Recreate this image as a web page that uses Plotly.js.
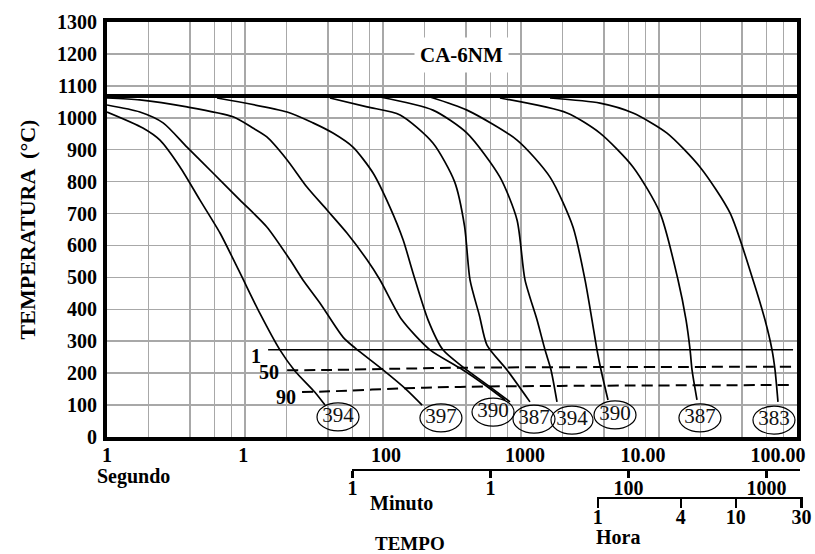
<!DOCTYPE html>
<html><head><meta charset="utf-8">
<script src="https://cdn.plot.ly/plotly-3.0.1.min.js"></script>
<style>html,body{margin:0;padding:0;background:#fff}</style>
</head><body><div id="chart" style="width:815px;height:554px"></div>
<script>
// ---- data (time in seconds, temperature in °C) ----
const c1Time = [1, 1.82, 2.42, 3.38, 4.72, 6.59, 9.2, 12.8, 17.9, 23, 32, 38];
const c1Temp = [1018, 968, 930, 846, 742, 639, 514, 388, 273, 207, 141, 100];
const c2Time = [1, 1.73, 2.55, 3.8, 5.86, 9.2, 14.4, 21.2, 26.3, 34.9, 51.3, 62.7, 100, 149, 192];
const c2Temp = [1040, 1018, 984, 908, 827, 742, 658, 555, 492, 420, 313, 279, 210, 147, 100];
const c3Time = [1, 1.73, 3.8, 8.2, 11.4, 14.4, 20.2, 28.1, 39.3, 54.8, 76.6, 95.2, 137, 219, 361, 548, 765];
const c3Temp = [1062, 1056, 1034, 1003, 968, 940, 868, 783, 711, 639, 555, 492, 367, 273, 216, 163, 116];
const c4Time = [6.27, 20.2, 31.1, 43.4, 60.6, 84.7, 112, 140, 165, 212, 272, 380, 596, 832];
const c4Temp = [1062, 1018, 984, 952, 908, 827, 721, 617, 514, 367, 273, 219, 157, 110];
const c5Time = [41.3, 76.6, 133, 230, 330, 390, 427, 500, 567, 792, 1161];
const c5Temp = [1062, 1034, 1009, 921, 800, 660, 492, 380, 288, 210, 110];
const c6Time = [95, 230, 406, 704, 936, 1069, 1306, 1493, 1650, 1823];
const c6Temp = [1065, 1024, 952, 814, 680, 492, 367, 273, 210, 110];
const c7Time = [219, 406, 936, 1623, 2381, 2910, 3268, 3553, 3800, 4270];
const c7Temp = [1065, 1024, 930, 814, 658, 492, 367, 273, 210, 116];
const c8Time = [704, 2155, 3736, 6480, 10170, 13740, 15700, 16800, 17350, 18850];
const c8Temp = [1062, 1015, 952, 846, 702, 492, 367, 273, 210, 116];
const c9Time = [1623, 3736, 6480, 11430, 19800, 32700, 48000, 58600, 65900, 69300, 72800];
const c9Temp = [1062, 1046, 1015, 952, 846, 702, 492, 367, 273, 210, 110];

const austenitizingTemp = 1068;

// martensite transformation lines (1 %, 50 %, 90 %)
const ms1Time = [14.7, 93600];
const ms1Temp = [273, 273];
const ms50Time = [20.2, 41, 133, 361, 3736, 93600];
const ms50Temp = [209, 210, 214, 217, 219, 220];
const ms90Time = [25.9, 41, 133, 361, 1918, 93600];
const ms90Temp = [141, 143, 152, 157, 160, 163];
const msLabels = ['1', '50', '90'];

// hardness (HV) circles at the curve ends
const hardnessValues = ['394', '397', '390', '387', '394', '390', '387', '383'];
const hardnessTime = [47.2, 263, 627, 1242, 2341, 4800, 19800, 68100];
const hardnessTemp = [63, 60, 78, 56, 53, 69, 60, 53];

// axis labels
const yTicks = [0, 100, 200, 300, 400, 500, 600, 700, 800, 900, 1000, 1100, 1200, 1300];
const secLabelPos = [1, 9.7, 105, 1069, 7650, 72800];
const secLabels = ['1', '1', '100', '1000', '10.00', '100.00'];
const minTicks = [1, 10, 100, 1000];
const minLabels = ['1', '1', '100', '1000'];
const hourTicks = [1, 4, 10, 30];
const hourLabels = ['1', '4', '10', '30'];
const gridMult = [1, 2, 4, 6, 8];
const chartTitle = 'CA-6NM';

// ---- layout / styling ----
const SERIF = '"Liberation Serif", "Times New Roman", serif';
const W = 815, H = 554, ML = 107, MR = 10, MT = 22, MB = 4;
const PW = W - ML - MR, PH = H - MT - MB;
const plotRight = 797, plotBottom = 437;
const xDomEnd = (plotRight - ML) / PW;
const yDomStart = (H - MB - plotBottom) / PH;
const secRange = [0, 5];
const yRange = [0, 1300];
const fx = px => (px - ML) / PW;           // pixel -> paper x
const fy = py => (H - MB - py) / PH;       // pixel -> paper y
const logSecAtFrac = f => secRange[0] + (secRange[1] - secRange[0]) * f / xDomEnd;
const pxPerDecade = (plotRight - ML) / (secRange[1] - secRange[0]);
const pxPerDeg = (plotBottom - MT) / (yRange[1] - yRange[0]);

const gridVals = [];
for (let k = 0; k < 5; k++) gridMult.forEach(m => gridVals.push(m * Math.pow(10, k)));
gridVals.push(1e5);

const curveTimes = [c1Time, c2Time, c3Time, c4Time, c5Time, c6Time, c7Time, c8Time, c9Time];
const curveTemps = [c1Temp, c2Temp, c3Temp, c4Temp, c5Temp, c6Temp, c7Temp, c8Temp, c9Temp];

const traces = curveTimes.map((t, i) => ({
  x: t, y: curveTemps[i], type: 'scatter', mode: 'lines',
  line: {color: '#000', width: 1.7, shape: 'spline', smoothing: 0.7},
  hoverinfo: 'skip', showlegend: false
}));
traces.push({x: ms1Time, y: ms1Temp, type: 'scatter', mode: 'lines',
  line: {color: '#000', width: 1.5}, showlegend: false});
traces.push({x: ms50Time, y: ms50Temp, type: 'scatter', mode: 'lines',
  line: {color: '#000', width: 2, dash: '11px,6px', shape: 'spline'}, showlegend: false});
traces.push({x: ms90Time, y: ms90Temp, type: 'scatter', mode: 'lines',
  line: {color: '#000', width: 2, dash: '11px,6px', shape: 'spline'}, showlegend: false});
traces.push({x: hardnessTime, y: hardnessTemp, type: 'scatter', mode: 'text',
  text: hardnessValues, textposition: 'middle center',
  textfont: {family: SERIF, size: 21, color: '#111'}, showlegend: false});
// carriers so the label-only axes are drawn
traces.push({x: secLabelPos, y: secLabelPos.map(() => yRange[0]), xaxis: 'x2', yaxis: 'y',
  type: 'scatter', mode: 'none', hoverinfo: 'skip', showlegend: false});
traces.push({x: minTicks, y: minTicks.map(() => 0.5), xaxis: 'x3', yaxis: 'y2',
  type: 'scatter', mode: 'none', hoverinfo: 'skip', showlegend: false});
traces.push({x: hourTicks, y: hourTicks.map(() => 0.5), xaxis: 'x4', yaxis: 'y3',
  type: 'scatter', mode: 'none', hoverinfo: 'skip', showlegend: false});

const shapes = [{
  type: 'line', xref: 'paper', x0: 0, x1: xDomEnd, yref: 'y',
  y0: austenitizingTemp, y1: austenitizingTemp, line: {color: '#000', width: 4}
}];
const ellHalfW = 21, ellHalfH = 14;
const ellF = Math.pow(10, ellHalfW / pxPerDecade);
const ellDT = ellHalfH / pxPerDeg;
hardnessTime.forEach((t, i) => shapes.push({
  type: 'circle', xref: 'x', yref: 'y',
  x0: t / ellF, x1: t * ellF, y0: hardnessTemp[i] - ellDT, y1: hardnessTemp[i] + ellDT,
  line: {color: '#000', width: 1.2}
}));

const lblFont = {family: SERIF, size: 20, color: '#000', weight: 'bold'};
const annotations = [
  {text: chartTitle, xref: 'x', yref: 'y', x: Math.log10(373), y: 1197, showarrow: false,
   font: {family: SERIF, size: 21, color: '#000', weight: 'bold'}, bgcolor: '#fff', borderpad: 5},
  {text: msLabels[0], xref: 'x', yref: 'y', x: Math.log10(ms1Time[0]), y: ms1Temp[0], xanchor: 'right',
   xshift: -5, yshift: -6, showarrow: false, font: lblFont},
  {text: msLabels[1], xref: 'x', yref: 'y', x: Math.log10(ms50Time[0]), y: ms50Temp[0], xanchor: 'right',
   xshift: -6, yshift: -2, showarrow: false, font: lblFont},
  {text: msLabels[2], xref: 'x', yref: 'y', x: Math.log10(ms90Time[0]), y: ms90Temp[0], xanchor: 'right',
   xshift: -4, yshift: -5, showarrow: false, font: lblFont},
  {text: 'Segundo', xref: 'paper', yref: 'paper', x: fx(95), y: fy(476), xanchor: 'left', yanchor: 'middle',
   showarrow: false, font: lblFont},
  {text: 'Minuto', xref: 'paper', yref: 'paper', x: fx(401), y: fy(503), xanchor: 'center', yanchor: 'middle',
   showarrow: false, font: lblFont},
  {text: 'Hora', xref: 'paper', yref: 'paper', x: fx(618), y: fy(537), xanchor: 'center', yanchor: 'middle',
   showarrow: false, font: lblFont},
  {text: 'TEMPO', xref: 'paper', yref: 'paper', x: fx(410), y: fy(543), xanchor: 'center', yanchor: 'middle',
   showarrow: false, font: {family: SERIF, size: 19, color: '#000', weight: 'bold'}}
];

const minDom = [fx(352), fx(800)];
const hourDom = [fx(597), fx(803)];
const minRange = minDom.map(f => logSecAtFrac(f) - Math.log10(60));
const hourRange = hourDom.map(f => logSecAtFrac(f) - Math.log10(3600));

const layout = {
  width: W, height: H,
  margin: {l: ML, r: MR, t: MT, b: MB},
  paper_bgcolor: '#fff', plot_bgcolor: '#fff',
  showlegend: false,
  xaxis: {type: 'log', range: secRange, domain: [0, xDomEnd], anchor: 'y',
    tickmode: 'array', tickvals: gridVals, ticktext: gridVals.map(() => ''),
    showgrid: true, gridcolor: '#a8a8a8', gridwidth: 1.6, ticks: '',
    showline: true, linecolor: '#000', linewidth: 4, mirror: true, zeroline: false},
  xaxis2: {type: 'log', range: secRange, overlaying: 'x', anchor: 'y', side: 'bottom',
    tickmode: 'array', tickvals: secLabelPos, ticktext: secLabels, ticks: '',
    showgrid: false, showline: false, zeroline: false, tickfont: lblFont, ticklabelstandoff: 4},
  xaxis3: {type: 'log', range: minRange, domain: minDom, anchor: 'y2',
    tickmode: 'array', tickvals: minTicks, ticktext: minLabels,
    ticks: 'outside', ticklen: 7, tickwidth: 2.5, tickcolor: '#000',
    showgrid: false, showline: true, linecolor: '#000', linewidth: 1.5, zeroline: false,
    tickfont: lblFont, ticklabelstandoff: -7},
  xaxis4: {type: 'log', range: hourRange, domain: hourDom, anchor: 'y3',
    tickmode: 'array', tickvals: hourTicks, ticktext: hourLabels,
    ticks: 'outside', ticklen: 9, tickwidth: 2.5, tickcolor: '#000',
    showgrid: false, showline: true, linecolor: '#000', linewidth: 1.5, zeroline: false,
    tickfont: lblFont, ticklabelstandoff: -8},
  yaxis: {range: yRange, domain: [yDomStart, 1], anchor: 'x',
    tickmode: 'array', tickvals: yTicks, ticks: '',
    showgrid: true, gridcolor: '#a8a8a8', gridwidth: 1.6,
    showline: true, linecolor: '#000', linewidth: 4, mirror: true, zeroline: false,
    tickfont: lblFont, ticklabelstandoff: 2,
    title: {text: 'TEMPERATURA  (°C)', font: {family: SERIF, size: 22, color: '#000', weight: 'bold'}, standoff: 16}},
  yaxis2: {domain: [fy(469), fy(469) + 0.02], range: [0, 1], visible: false, anchor: 'x3'},
  yaxis3: {domain: [fy(497), fy(497) + 0.02], range: [0, 1], visible: false, anchor: 'x4'},
  shapes: shapes,
  annotations: annotations
};

Plotly.newPlot('chart', traces, layout, {staticPlot: true, displayModeBar: false});
</script>
</body></html>
